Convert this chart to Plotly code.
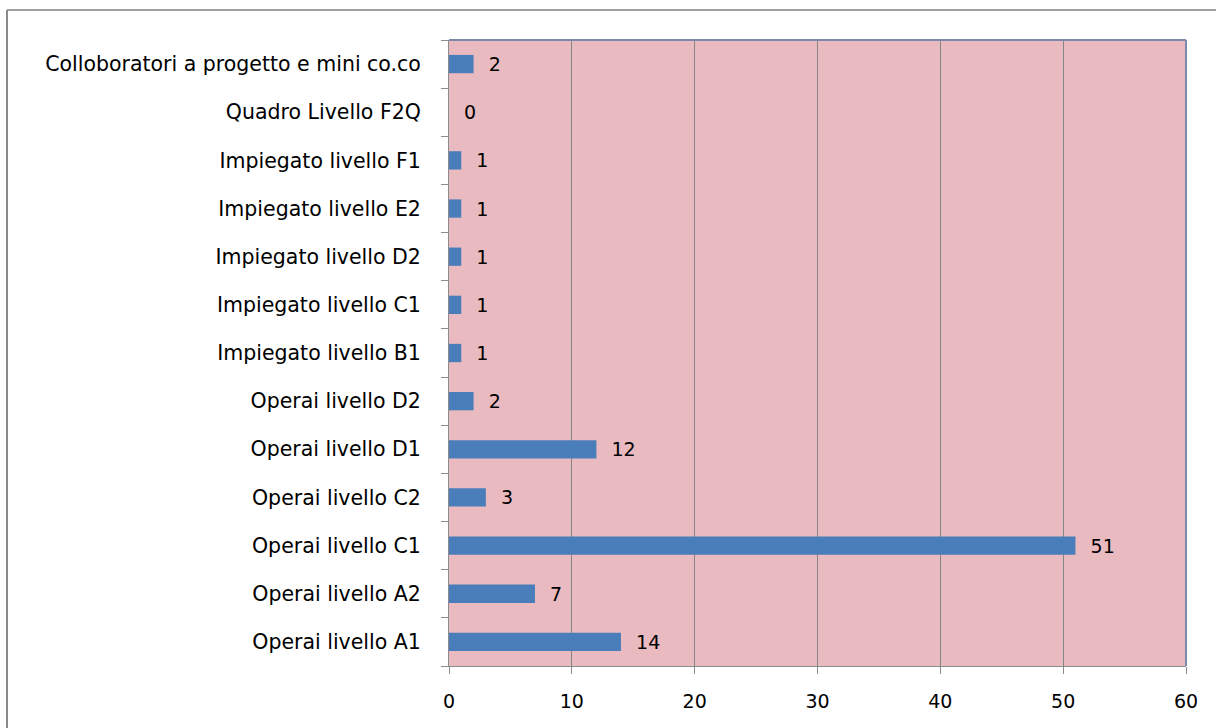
import plotly.graph_objects as go

categories = [
    "Operai livello A1", "Operai livello A2", "Operai livello C1", "Operai livello C2",
    "Operai livello D1", "Operai livello D2", "Impiegato livello B1", "Impiegato livello C1",
    "Impiegato livello D2", "Impiegato livello E2", "Impiegato livello F1",
    "Quadro Livello F2Q", "Colloboratori a progetto e mini co.co",
]
values = [14, 7, 51, 3, 12, 2, 1, 1, 1, 1, 1, 0, 2]
x_ticks = [0, 10, 20, 30, 40, 50, 60]

FONT = "DejaVu Sans"
FS = 19

fig = go.Figure()
fig.add_trace(go.Bar(
    y=categories, x=values, orientation="h",
    marker=dict(color="#4a7ebb", line=dict(width=0)),
    width=0.38,
    text=["\u00a0\u00a0" + str(v) for v in values],
    textposition="outside",
    constraintext="none",
    textfont=dict(family=FONT, size=FS, color="#000000"),
    cliponaxis=False,
    hoverinfo="x+y",
))

fig.update_layout(
    width=1216, height=728,
    margin=dict(l=449, r=30, t=40, b=62),
    paper_bgcolor="#ffffff",
    plot_bgcolor="#e9babf",
    showlegend=False,
    font=dict(family=FONT, size=FS, color="#000000"),
    xaxis=dict(
        range=[0, 60], tickvals=x_ticks, ticktext=[str(t) for t in x_ticks],
        showgrid=True, gridcolor="#858585", gridwidth=1,
        showline=True, linecolor="#8c8c8c", linewidth=1,
        ticks="outside", ticklen=7, tickcolor="#8c8c8c",
        ticklabelstandoff=11,
        tickfont=dict(family=FONT, size=FS, color="#000000"),
        zeroline=False, fixedrange=True,
    ),
    yaxis=dict(
        type="category", categoryorder="array", categoryarray=categories,
        showline=True, linecolor="#8c8c8c", linewidth=1,
        ticks="outside", ticklen=7, tickcolor="#8c8c8c", tickson="boundaries",
        ticklabelstandoff=23,
        tickfont=dict(family=FONT, size=20.5, color="#000000"),
        showgrid=False, zeroline=False, fixedrange=True,
    ),
    shapes=[
        dict(type="line", xref="paper", yref="paper", x0=0, x1=1, y0=1, y1=1,
             line=dict(color="#7a8aa8", width=2)),
        dict(type="line", xref="paper", yref="paper", x0=1, x1=1, y0=0, y1=1,
             line=dict(color="#7a8aa8", width=2)),
        # outer chart border
        dict(type="line", xref="paper", yref="paper",
             x0=-442/737, x1=(1216 - 449)/737 + 0.01, y0=(728 - 62 - 10)/626, y1=(728 - 62 - 10)/626,
             line=dict(color="#a0a0a0", width=2)),
        dict(type="line", xref="paper", yref="paper",
             x0=-442/737, x1=-442/737, y0=-62/626 - 0.01, y1=(728 - 62 - 10)/626,
             line=dict(color="#8a8a8a", width=2)),
    ],
)

fig.write_html("out.html")
